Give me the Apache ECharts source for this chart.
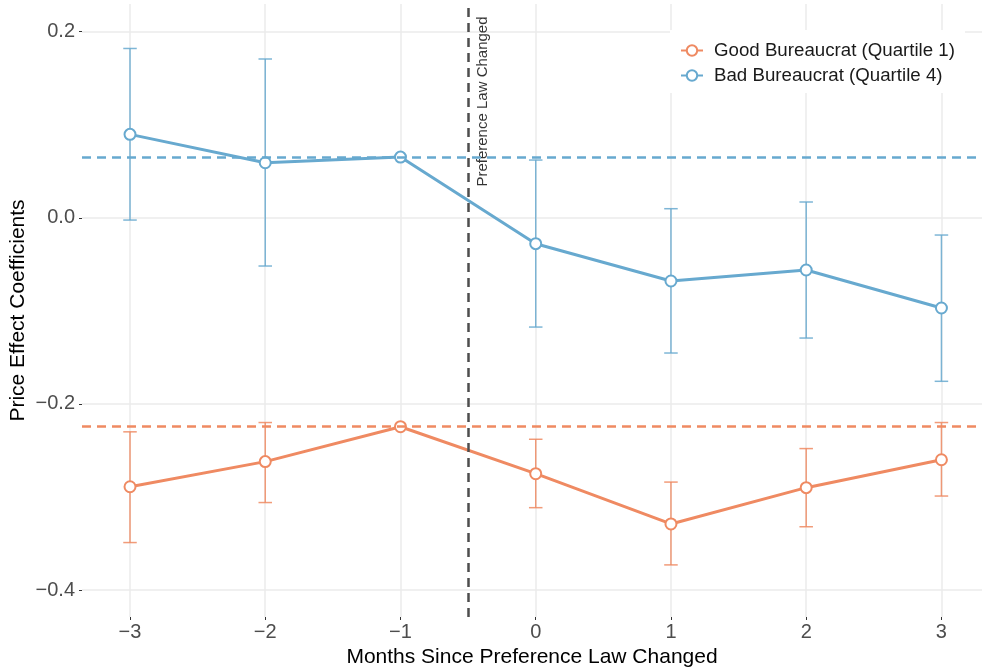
<!DOCTYPE html>
<html>
<head>
<meta charset="utf-8">
<script src="https://cdn.jsdelivr.net/npm/echarts@6/dist/echarts.min.js"></script>
<style>
  html, body { margin: 0; padding: 0; background: #fff; }
  #chart { width: 982px; height: 669px; }
</style>
</head>
<body>
<div id="chart"></div>
<script>
// months relative to the law change
var months = [-3, -2, -1, 0, 1, 2, 3];

// Good Bureaucrat (Quartile 1)
var goodCoef = [-0.289, -0.262, -0.2245, -0.275, -0.329, -0.290, -0.260];
var goodLow  = [-0.349, -0.306, null, -0.3115, -0.373, -0.332, -0.299];
var goodHigh = [-0.230, -0.220, null, -0.238, -0.284, -0.248, -0.220];

// Bad Bureaucrat (Quartile 4)
var badCoef = [0.0897, 0.0592, 0.0653, -0.0278, -0.0679, -0.0561, -0.0969];
var badLow  = [-0.0024, -0.0518, null, -0.1174, -0.1453, -0.1292, -0.1757];
var badHigh = [0.182, 0.1707, null, 0.0621, 0.0098, 0.0170, -0.0185];

var yTicks = [-0.4, -0.2, 0.0, 0.2];
var lawChange = -0.5;
var annot = [-0.39, 0.125];

var goodName = 'Good Bureaucrat (Quartile 1)';
var badName = 'Bad Bureaucrat (Quartile 4)';
var orange = '#EF8A62';
var blue = '#67A9CF';
var font = 'Liberation Sans, Arial, sans-serif';

function minus(v) { return String(v).replace('-', '\u2212'); }

function pairs(ys) {
  return months.map(function (m, i) { return [m, ys[i]]; });
}
function bars(lo, hi) {
  var out = [];
  months.forEach(function (m, i) {
    if (lo[i] !== null) out.push([m, lo[i], hi[i]]);
  });
  return out;
}

function errorBar(color) {
  return function (params, api) {
    var x = api.value(0);
    var top = api.coord([x, api.value(2)]);
    var bot = api.coord([x, api.value(1)]);
    var half = api.size([0.1, 0])[0] / 2;
    var st = { stroke: color, lineWidth: 1.5, opacity: 0.85 };
    return {
      type: 'group',
      children: [
        { type: 'line', shape: { x1: top[0], y1: top[1], x2: bot[0], y2: bot[1] }, style: st },
        { type: 'line', shape: { x1: top[0] - half, y1: top[1], x2: top[0] + half, y2: top[1] }, style: st },
        { type: 'line', shape: { x1: bot[0] - half, y1: bot[1], x2: bot[0] + half, y2: bot[1] }, style: st }
      ]
    };
  };
}

function refLine(value, color) {
  return {
    silent: true,
    symbol: 'none',
    precision: 6,
    label: { show: false },
    lineStyle: { color: color, width: 2.5, type: [9, 6] },
    data: [{ yAxis: value }]
  };
}

var myChart = echarts.init(document.getElementById('chart'));
var option = {
  animation: false,
  textStyle: { fontFamily: font },
  grid: { left: 82, right: 0, top: 4, bottom: 52, outerBoundsMode: 'none' },
  legend: {
    data: [goodName, badName],
    orient: 'vertical',
    left: 670,
    top: 30,
    padding: [10, 10, 7, 10],
    backgroundColor: '#fff',
    itemWidth: 22,
    itemHeight: 13,
    itemGap: 4,
    textStyle: { fontSize: 18.7, lineHeight: 21, color: '#1a1a1a', fontFamily: font, padding: [0, 0, 0, 6] }
  },
  xAxis: {
    type: 'value',
    min: -3.355,
    max: 3.3,
    name: 'Months Since Preference Law Changed',
    nameLocation: 'middle',
    nameGap: 28,
    nameTextStyle: { fontSize: 21, color: '#000', fontFamily: font },
    axisLine: { show: false, onZero: false },
    axisTick: { show: true, customValues: months, length: 3, lineStyle: { color: '#333' } },
    axisLabel: {
      customValues: months, margin: 5, fontSize: 20, color: '#4D4D4D', fontFamily: font,
      formatter: function (v) { return minus(v); }
    },
    splitLine: { show: true, lineStyle: { color: '#EBEBEB', width: 1.5 } }
  },
  yAxis: {
    type: 'value',
    min: -0.429,
    max: 0.2298,
    name: 'Price Effect Coefficients',
    nameLocation: 'middle',
    nameGap: 53,
    nameMoveOverlap: false,
    nameTextStyle: { fontSize: 21, color: '#000', fontFamily: font },
    axisLine: { show: false, onZero: false },
    axisTick: { show: true, customValues: yTicks, length: 3, lineStyle: { color: '#333' } },
    axisLabel: {
      customValues: yTicks, margin: 7, fontSize: 20, color: '#4D4D4D', fontFamily: font,
      formatter: function (v) { return minus(v.toFixed(1)); }
    },
    splitLine: { show: true, lineStyle: { color: '#EBEBEB', width: 1.5 } }
  },
  series: [
    {
      type: 'custom',
      name: 'goodErr',
      renderItem: errorBar(orange),
      encode: { x: 0, y: [1, 2] },
      data: bars(goodLow, goodHigh),
      silent: true,
      z: 2
    },
    {
      type: 'custom',
      name: 'badErr',
      renderItem: errorBar(blue),
      encode: { x: 0, y: [1, 2] },
      data: bars(badLow, badHigh),
      silent: true,
      z: 2
    },
    {
      type: 'line',
      name: goodName,
      data: pairs(goodCoef),
      symbol: 'circle',
      symbolSize: 11,
      itemStyle: { color: '#fff', borderColor: orange, borderWidth: 2 },
      lineStyle: { color: orange, width: 3 },
      markLine: refLine(goodCoef[2], orange),
      emphasis: { disabled: true },
      z: 3
    },
    {
      type: 'line',
      name: badName,
      data: pairs(badCoef),
      symbol: 'circle',
      symbolSize: 11,
      itemStyle: { color: '#fff', borderColor: blue, borderWidth: 2 },
      lineStyle: { color: blue, width: 3 },
      markLine: refLine(badCoef[2], blue),
      emphasis: { disabled: true },
      z: 3
    },
    {
      type: 'scatter',
      name: 'annotation',
      data: [annot],
      symbolSize: 1,
      itemStyle: { color: 'rgba(0,0,0,0)' },
      silent: true,
      labelLayout: { hideOverlap: false },
      label: {
        show: true,
        position: 'inside',
        rotate: 90,
        formatter: 'Preference Law Changed',
        fontSize: 15,
        color: '#000',
        fontFamily: font
      },
      markLine: {
        silent: true,
        symbol: 'none',
        precision: 6,
        label: { show: false },
        lineStyle: { color: '#4D4D4D', width: 2.5, type: [9, 6] },
        data: [{ xAxis: lawChange }]
      },
      z: 4
    }
  ]
};
myChart.setOption(option);
</script>
</body>
</html>
